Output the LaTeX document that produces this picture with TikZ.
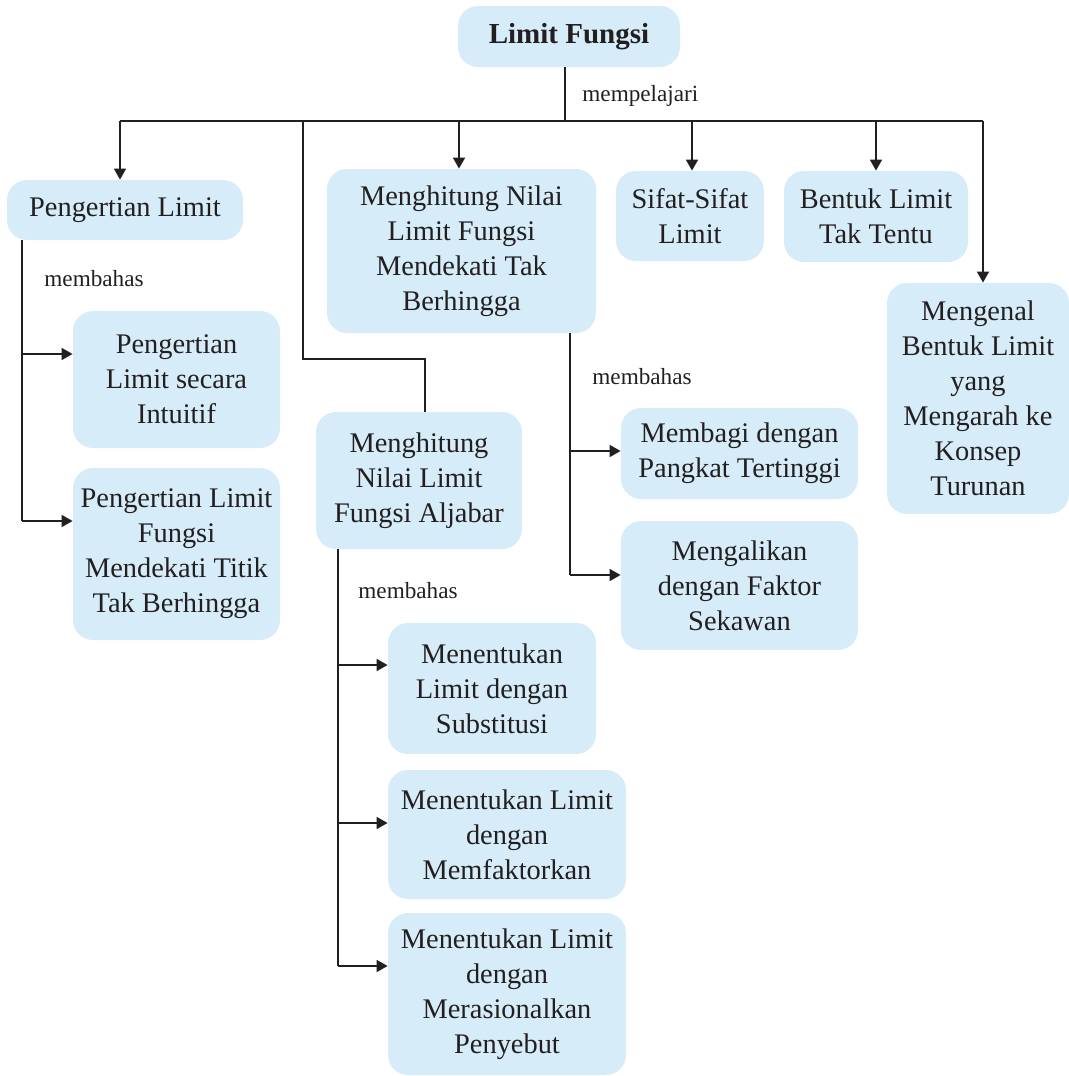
\documentclass[tikz,border=0pt]{standalone}
\usepackage{fontspec}
\setmainfont{Liberation Serif}
\usepackage{tikz}
\usetikzlibrary{arrows.meta}
\definecolor{biru}{RGB}{214,237,249}
\definecolor{tinta}{RGB}{35,31,32}

\begin{document}
\begin{tikzpicture}[x=0.5pt, y=-0.5pt,
    kotak/.style={fill=biru, rounded corners=10pt, align=center, inner sep=0pt,
                  text=tinta, font=\fontsize{14.2}{17.5}\selectfont},
    ket/.style={anchor=west, inner sep=0pt, text=tinta, font=\fontsize{11.6}{14}\selectfont},
    garis/.style={draw=tinta, line width=0.8pt},
    panah/.style={garis, -{Triangle[length=5.5pt,width=6pt]}}]
    \useasboundingbox (0,0) rectangle (1069,1076);

    % kotak-kotak
    \node[kotak, minimum width=111pt, minimum height=30.5pt, font=\fontsize{14.5}{17.5}\selectfont\bfseries]
          (lf) at (569,36.5) {\raisebox{-1.5pt}{Limit Fungsi}};
    \node[kotak, minimum width=118pt, minimum height=30pt] (pl) at (125,210) {Pengertian Limit};
    \node[kotak, minimum width=134.5pt, minimum height=82pt] (tb) at (461.5,251)
          {Menghitung Nilai\\Limit Fungsi\\Mendekati Tak\\Berhingga};
    \node[kotak, minimum width=74pt, minimum height=45pt] (ss) at (690,216) {Sifat-Sifat\\Limit};
    \node[kotak, minimum width=92pt, minimum height=45.5pt] (bt) at (876,216.5) {Bentuk Limit\\Tak Tentu};
    \node[kotak, minimum width=91pt, minimum height=115.5pt] (mk) at (978,398.5)
          {Mengenal\\Bentuk Limit\\yang\\Mengarah ke\\Konsep\\Turunan};
    \node[kotak, minimum width=103.5pt, minimum height=68.5pt] (pi) at (176.5,379.5)
          {Pengertian\\Limit secara\\Intuitif};
    \node[kotak, minimum width=103.5pt, minimum height=86pt] (pf) at (176.5,554)
          {Pengertian Limit\\Fungsi\\Mendekati Titik\\Tak Berhingga};
    \node[kotak, minimum width=103pt, minimum height=68.5pt] (al) at (419,480.5)
          {Menghitung\\Nilai Limit\\Fungsi Aljabar};
    \node[kotak, minimum width=118.5pt, minimum height=45.5pt] (mp) at (739.5,453.5)
          {Membagi dengan\\Pangkat Tertinggi};
    \node[kotak, minimum width=118.5pt, minimum height=64.5pt] (mf) at (739.5,585.5)
          {Mengalikan\\dengan Faktor\\Sekawan};
    \node[kotak, minimum width=104pt, minimum height=65.5pt] (ms) at (492,688.5)
          {Menentukan\\Limit dengan\\Substitusi};
    \node[kotak, minimum width=119pt, minimum height=64.5pt] (mm) at (507,834.5)
          {Menentukan Limit\\dengan\\Memfaktorkan};
    \node[kotak, minimum width=119pt, minimum height=81pt] (mr) at (507,994)
          {Menentukan Limit\\dengan\\Merasionalkan\\Penyebut};

    % keterangan
    \node[ket] (k1) at (582,96) {mempelajari};
    \node[ket] (k2) at (44,279) {membahas};
    \node[ket] (k3) at (592,377) {membahas};
    \node[ket] (k4) at (358,591) {membahas};

    % cabang utama
    \coordinate (bus) at (565,121);
    \draw[garis] (lf.south -| bus) -- (bus);
    \draw[garis] (120,121) -- (983,121);
    \draw[panah] (120,121) -- (pl.north -| 120,0);
    \draw[panah] (459,121) -- (tb.north -| 459,0);
    \draw[panah] (692,121) -- (ss.north -| 692,0);
    \draw[panah] (876,121) -- (bt.north);
    \draw[panah] (983,121) -- (mk.north -| 983,0);
    \draw[garis] (303,121) -- (303,359) -| (al.north -| 425,0);

    % membahas (kiri)
    \draw[garis] (pl.south -| 22,0) -- (22,521);
    \draw[panah] (22,354) -- (pi.west |- 22,354);
    \draw[panah] (22,521) -- (pf.west |- 22,521);

    % membahas (tengah)
    \draw[garis] (tb.south -| 570,0) -- (570,575);
    \draw[panah] (570,451) -- (mp.west |- 570,451);
    \draw[panah] (570,575) -- (mf.west |- 570,575);

    % membahas (aljabar)
    \draw[garis] (al.south -| 338,0) -- (338,966);
    \draw[panah] (338,665) -- (ms.west |- 338,665);
    \draw[panah] (338,823) -- (mm.west |- 338,823);
    \draw[panah] (338,966) -- (mr.west |- 338,966);
\end{tikzpicture}
\end{document}
